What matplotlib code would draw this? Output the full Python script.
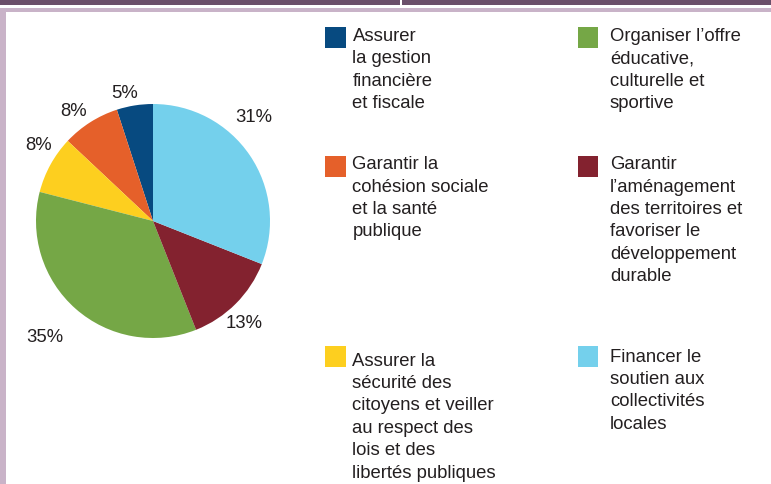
import matplotlib
matplotlib.use("Agg")
import matplotlib.pyplot as plt
from matplotlib.patches import Rectangle

# ---- data ----
categories = [
    "Assurer\nla gestion\nfinancière\net fiscale",
    "Garantir la\ncohésion sociale\net la santé\npublique",
    "Assurer la\nsécurité des\ncitoyens et veiller\nau respect des\nlois et des\nlibertés publiques",
    "Organiser l’offre\néducative,\nculturelle et\nsportive",
    "Garantir\nl’aménagement\ndes territoires et\nfavoriser le\ndéveloppement\ndurable",
    "Financer le\nsoutien aux\ncollectivités\nlocales",
]
values = [5, 8, 8, 35, 13, 31]
colors = ["#074a80", "#e5602a", "#fdcf1f", "#75a746", "#83222f", "#74d0ec"]

W, H = 771, 484
fig = plt.figure(figsize=(W / 100, H / 100), dpi=100)
ax = fig.add_axes([0, 0, 1, 1])
TXT = "#231f20"
FONT = "Liberation Sans"
FS = 13.3

def Y(y):
    return H - y

# frame decoration
ax.add_patch(Rectangle((0, Y(5)), W, 5, color="#6b4f6a", lw=0, zorder=0))
ax.add_patch(Rectangle((400, Y(5)), 2, 5, color="white", lw=0, zorder=1))
ax.add_patch(Rectangle((0, Y(12.3)), W, 4, color="#c9b3c8", lw=0, zorder=0))
ax.add_patch(Rectangle((0, 0), 6, Y(8.3), color="#c9b3c8", lw=0, zorder=0))

# pie
cx, cy, R = 153, Y(221), 117
ax.pie(values, colors=colors, startangle=90, counterclock=True,
       center=(cx, cy), radius=R, wedgeprops=dict(linewidth=0))

# percentage labels (pixel offsets from center)
label_pos = [(125, 93.7), (73.7, 111.3), (39, 146), (44.7, 338), (244, 323), (254, 117)]
for v, (lx, ly) in zip(values, label_pos):
    ax.text(lx, Y(ly), f"{v}%", ha="center", va="center", fontsize=FS,
            family=FONT, color=TXT)

# legend
leg_square = [(325, 27), (325, 156), (325, 346), (577.5, 27), (577.5, 156), (577.5, 346)]
leg_base = [40.7, 169.3, 365.7, 40.7, 169.3, 361.7]
LS = 22.4
for cat, col, (sx, sy), b in zip(categories, colors, leg_square, leg_base):
    ax.add_patch(Rectangle((sx, Y(sy + 20.5)), 20.5, 20.5, color=col, lw=0))
    for i, line in enumerate(cat.split("\n")):
        ax.text(sx + 27.5 if sx < 400 else sx + 32.5, Y(b + i * LS), line,
                ha="left", va="baseline", fontsize=FS, family=FONT, color=TXT)

ax.set_xlim(0, W)
ax.set_ylim(0, H)
ax.set_aspect("auto")
ax.axis("off")
fig.savefig("out.png", dpi=100, facecolor="white")
